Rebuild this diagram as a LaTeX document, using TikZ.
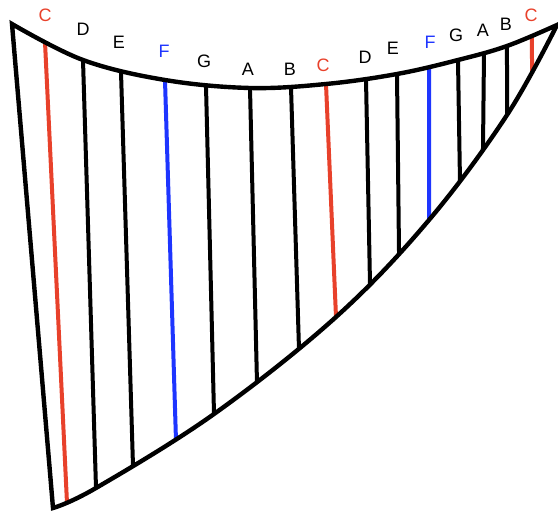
\documentclass[tikz,border=0pt]{standalone}
\usepackage{fontspec}
\setmainfont{Liberation Sans}
\usetikzlibrary{intersections,calc}
\definecolor{hred}{HTML}{E8412B}
\definecolor{hblue}{HTML}{1E35FF}
\begin{document}
\begin{tikzpicture}[x=1pt,y=-1pt,
  frame/.style={line width=4.4pt,line join=miter},
  str/.style={line width=4pt},
  lbl/.style={font=\fontsize{18}{18}\selectfont, inner sep=0pt, anchor=center}]
\useasboundingbox (0,0) rectangle (558,513);
% frame corners
\coordinate (tl) at (12,24);
\coordinate (tr) at (557,25);
\coordinate (bl) at (53,508);
% frame curves
\path[name path=top] plot[smooth,tension=0.6] coordinates {(tl) (83,60) (165,80) (250,88) (326,84) (397,74) (458,60) (507,46) (tr)};
\path[name path=bot] plot[smooth,tension=0.6] coordinates {(tr) (507,115) (429,220) (336,317) (214,414) (96,488) (bl)};
% strings
\foreach \i/\xt/\yt/\xb/\yb/\c in {
   1/45/42/67/503/hred, 2/83/60/96/488/black, 3/121/72/133/466/black,
   4/165/80/176/441/hblue, 5/206/86/214/414/black, 6/250/88/257/383/black,
   7/291/87/299/349/black, 8/326/84/336/317/hred, 9/366/79/370/284/black,
   10/397/74/399/251/black, 11/429/67/429/220/hblue, 12/458/60/460/182/black,
   13/484/53/483/148/black, 14/507/46/507/115/black, 15/532/35/532/78/hred}{
  \path[name path=s] ($(\xt,\yt)!-20pt!(\xb,\yb)$) -- ($(\xb,\yb)!-20pt!(\xt,\yt)$);
  \path[name intersections={of=s and top, by={t\i}}];
  \path[name intersections={of=s and bot, by={b\i}}];
  \draw[str,draw=\c] (t\i) -- (b\i);
}
% frame
\draw[frame] plot[smooth,tension=0.6] coordinates {(tl) (83,60) (165,80) (250,88) (326,84) (397,74) (458,60) (507,46) (tr)}
  -- plot[smooth,tension=0.6] coordinates {(tr) (507,115) (429,220) (336,317) (214,414) (96,488) (bl)}
  -- cycle;
% labels
\node[lbl,text=hred]  (l1)  at (45,15) {C};
\node[lbl]            (l2)  at (83,29) {D};
\node[lbl]            (l3)  at (119,42) {E};
\node[lbl,text=hblue] (l4)  at (164,51) {F};
\node[lbl]            (l5)  at (204,61) {G};
\node[lbl]            (l6)  at (248,69) {A};
\node[lbl]            (l7)  at (290,69) {B};
\node[lbl,text=hred]  (l8)  at (323,65) {C};
\node[lbl]            (l9)  at (365,57) {D};
\node[lbl]            (l10) at (393,48) {E};
\node[lbl,text=hblue] (l11) at (430,42) {F};
\node[lbl]            (l12) at (456,35) {G};
\node[lbl]            (l13) at (483,30) {A};
\node[lbl]            (l14) at (506,24) {B};
\node[lbl,text=hred]  (l15) at (531,15) {C};
\end{tikzpicture}
\end{document}
